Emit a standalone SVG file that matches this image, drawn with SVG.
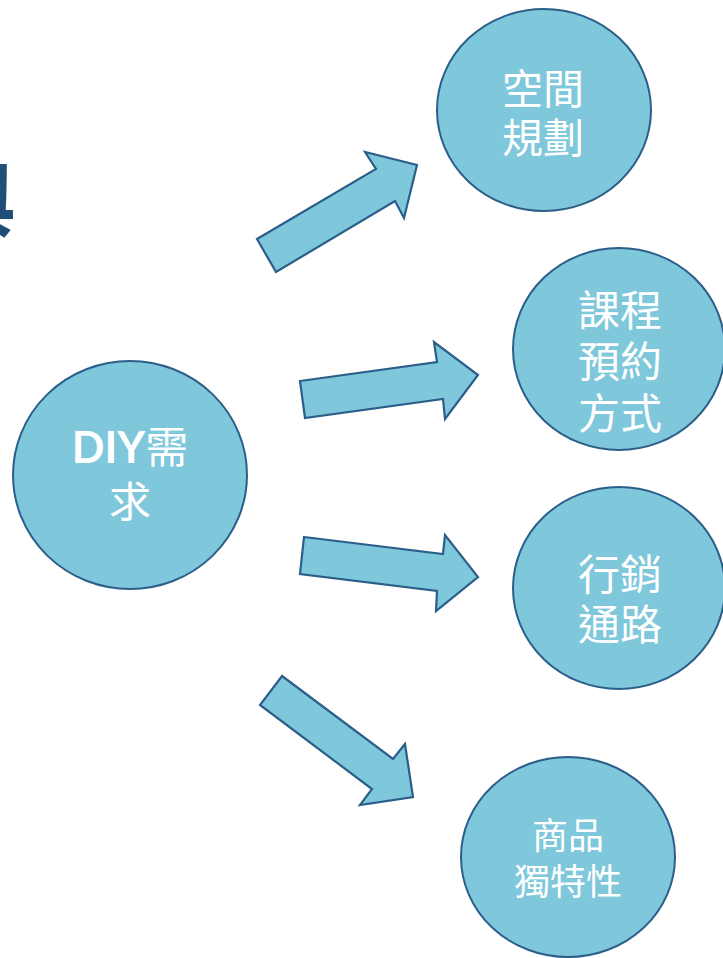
<svg xmlns="http://www.w3.org/2000/svg" width="723" height="958" viewBox="0 0 723 958">
<style>
.node{fill:#7FC7DB;stroke:#2B5F8A;stroke-width:2}
.arrow{fill:#7FC7DB;stroke:#2B5F8A;stroke-width:2.2;stroke-linejoin:miter}
.t{fill:#ffffff;font-family:"Noto Sans CJK TC","Noto Sans CJK SC",sans-serif;text-anchor:middle}
.title{fill:#1F4E79;font-family:"Noto Sans CJK TC",sans-serif;font-weight:bold}
</style>
<rect width="723" height="958" fill="#ffffff"/>
<text class="title" x="-66" y="230" font-size="82">與</text>
<g id="connectors">
<polygon class="arrow" points="257,239 376,169 365,152 417,165 404,218 395,201 276,272"/>
<polygon class="arrow" points="300,381 437,362 434,342 478,375 445,419 443,399 305,418"/>
<polygon class="arrow" points="304,537 443,554 445,535 478,577 436,611 437,591 300,574"/>
<polygon class="arrow" points="282,676 393,759 405,744 413,797 360,805 372,789 260,705"/>
</g>
<g id="diy">
<ellipse class="node" cx="130" cy="475" rx="117" ry="114"/>
<text class="t" x="130" y="463" font-size="43"><tspan font-family="Lato,'Liberation Sans',sans-serif" font-weight="bold">DIY</tspan>需</text>
<text class="t" x="130" y="517" font-size="42">求</text>
</g>
<g id="space">
<ellipse class="node" cx="544" cy="110" rx="107" ry="101"/>
<text class="t" x="543" y="104" font-size="41">空間</text>
<text class="t" x="543" y="153" font-size="41">規劃</text>
</g>
<g id="booking">
<ellipse class="node" cx="619" cy="349" rx="106" ry="101"/>
<text class="t" x="620" y="326" font-size="42">課程</text>
<text class="t" x="620" y="377" font-size="42">預約</text>
<text class="t" x="620" y="429" font-size="42">方式</text>
</g>
<g id="marketing">
<ellipse class="node" cx="619" cy="588" rx="106" ry="101"/>
<text class="t" x="620" y="590" font-size="42">行銷</text>
<text class="t" x="620" y="640" font-size="42">通路</text>
</g>
<g id="product">
<ellipse class="node" cx="568" cy="857" rx="107" ry="100"/>
<text class="t" x="568" y="849" font-size="36">商品</text>
<text class="t" x="568" y="895" font-size="36">獨特性</text>
</g>
</svg>
